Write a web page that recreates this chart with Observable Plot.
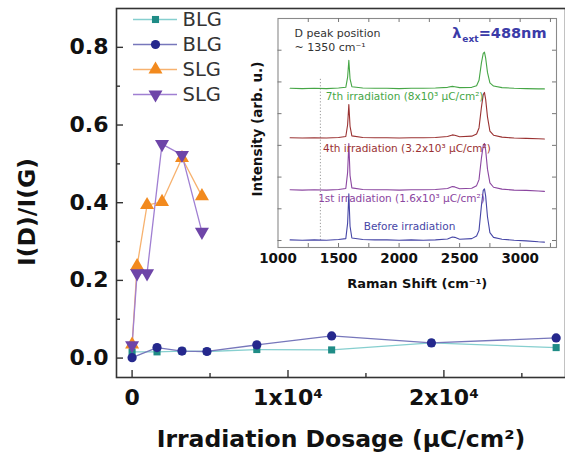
<!DOCTYPE html>
<html><head><meta charset="utf-8">
<script src="https://cdn.jsdelivr.net/npm/d3@7"></script>
<script src="https://cdn.jsdelivr.net/npm/@observablehq/plot@0.6"></script>
<style>
body{margin:0;background:#fff;}
#chart{position:relative;width:565px;height:461px;overflow:hidden;background:#fff;}
#chart svg{position:absolute;left:0;top:0;}
</style></head><body><div id="chart"></div>
<script>
// ---------- main chart data ----------
const blgSquareDose  = [0, 1600, 3200, 4800, 8000, 12800, 19200, 27200];
const blgSquareRatio = [0.016, 0.016, 0.018, 0.017, 0.022, 0.021, 0.039, 0.027];
const blgCircleDose  = [0, 1600, 3200, 4800, 8000, 12800, 19200, 27200];
const blgCircleRatio = [0.001, 0.027, 0.018, 0.017, 0.034, 0.057, 0.039, 0.052];
const slgUpDose      = [0, 320, 960, 1920, 3200, 4480];
const slgUpRatio     = [0.035, 0.237, 0.394, 0.402, 0.515, 0.417];
const slgDownDose    = [0, 320, 960, 1920, 3200, 4480];
const slgDownRatio   = [0.033, 0.218, 0.218, 0.551, 0.523, 0.325];
const seriesNames    = ["BLG", "BLG", "SLG", "SLG"];
const lineColors     = ["#86cfcf", "#7777bb", "#f7b26f", "#a07fd2"];
const markColors     = ["#1f8c86", "#25288d", "#f28a1e", "#6e45a8"];
const xTicks      = [0, 10000, 20000];
const xTickLabels = ["0", "1x10⁴", "2x10⁴"];
const xMinor      = [5000, 15000, 25000];
const yTicks      = [0, 0.2, 0.4, 0.6, 0.8];
const yMinor      = [0.1, 0.3, 0.5, 0.7];
const xTitle = "Irradiation Dosage (μC/cm²)";
const yTitle = "I(D)/I(G)";

// ---------- inset (Raman spectra) data ----------
const ramanShift = [1100,1200,1300,1400,1500,1560,1575,1585,1595,1610,1700,1800,1900,2000,2100,2200,2300,2400,2440,2460,2500,2600,2640,2660,2680,2695,2705,2715,2730,2750,2780,2850,2950,3050,3150,3200];
const specBefore = [0.02,0.01,0.02,0.01,0.03,0.06,0.55,1.47,0.45,0.08,0.03,0.02,0.02,0.01,0.02,0.01,0.02,0.05,0.11,0.10,0.04,0.06,0.14,0.32,1.10,1.58,1.63,1.40,0.75,0.25,0.10,0.04,0.01,-0.01,-0.04,-0.05];
const spec1st    = [1.60,1.59,1.60,1.59,1.61,1.64,2.15,3.06,2.05,1.66,1.61,1.60,1.60,1.59,1.60,1.60,1.61,1.64,1.70,1.69,1.63,1.65,1.73,1.92,2.60,3.00,3.06,2.85,2.25,1.82,1.68,1.62,1.59,1.58,1.56,1.55];
const spec4th    = [3.24,3.23,3.24,3.23,3.25,3.28,3.65,4.29,3.60,3.30,3.25,3.24,3.24,3.23,3.24,3.24,3.25,3.28,3.33,3.32,3.27,3.29,3.36,3.55,4.20,4.60,4.67,4.45,3.90,3.45,3.32,3.26,3.23,3.22,3.21,3.20];
const spec7th    = [4.80,4.79,4.80,4.79,4.81,4.83,5.15,5.68,5.10,4.85,4.81,4.80,4.80,4.79,4.80,4.80,4.81,4.83,4.86,4.85,4.82,4.83,4.88,5.05,5.60,5.90,5.94,5.75,5.30,4.97,4.87,4.82,4.80,4.79,4.78,4.78];
const specColors = ["#4646a6", "#8b46a0", "#9a3232", "#46a646"];
const specLabels = ["Before irradiation", "1st irradiation (1.6x10³ μC/cm²)", "4th irradiation (3.2x10³ μC/cm²)", "7th irradiation (8x10³ μC/cm²)"];
const specLabelShift = [2086, 2020, 2065, 2045];
const specLabelLevel = [0.44, 1.32, 2.91, 4.54];
const ramanTicks = [1000, 1500, 2000, 2500, 3000];
const ramanMinor = [1250, 1500, 1750, 2000, 2250, 2500, 2750, 3000, 3250];
const intensityTicks = [0, 1, 2, 3, 4, 5, 6];
const dPeakShift = 1350, dLineBottom = 0, dLineTop = 5.1;

const FONT = "DejaVu Sans";
const chart = document.getElementById("chart");

// ---------- main plot ----------
const W = 565, H = 461, mL = 116, mT = 8, mR = 0, mB = 84;
const fw = W - mL - mR, fh = H - mT - mB;
const downTriangle = {draw(ctx, size) {
  const y = Math.sqrt(size / (3 * Math.sqrt(3)));
  ctx.moveTo(0, 2 * y); ctx.lineTo(-Math.sqrt(3) * y, -y); ctx.lineTo(Math.sqrt(3) * y, -y); ctx.closePath();
}};
const symbols = ["square", "circle", "triangle", downTriangle];
const radii = [4, 4.6, 5.2, 5.2];
const doses = [blgSquareDose, blgCircleDose, slgUpDose, slgDownDose];
const ratios = [blgSquareRatio, blgCircleRatio, slgUpRatio, slgDownRatio];
const seriesRows = doses.map((ds, k) => ds.map((d, i) => ({dose: d, ratio: ratios[k][i]})));

const mainMarks = [
  Plot.frame({stroke: "#333", strokeWidth: 1.6}),
  Plot.ruleX(xTicks, {x: d => d, insetTop: fh - 7, stroke: "#333", strokeWidth: 1.4}),
  Plot.ruleX(xMinor, {x: d => d, insetTop: fh - 4, stroke: "#333", strokeWidth: 1.4}),
  Plot.ruleY(yTicks, {y: d => d, insetRight: fw - 7, stroke: "#333", strokeWidth: 1.4}),
  Plot.ruleY(yMinor, {y: d => d, insetRight: fw - 4, stroke: "#333", strokeWidth: 1.4}),
  Plot.axisX({ticks: xTicks, tickSize: 0, tickPadding: 12, tickFormat: d => xTickLabels[xTicks.indexOf(d)], fontSize: 22, fontWeight: "bold", fill: "#111", label: null}),
  Plot.axisY({ticks: yTicks, tickSize: 0, tickPadding: 8, tickFormat: d3.format(".1f"), fontSize: 22, fontWeight: "bold", fill: "#111", label: null}),
  Plot.text([xTitle], {text: d => d, frameAnchor: "bottom", dy: 69.5, textAnchor: "middle", fontSize: 23.5, fontWeight: "bold", fill: "#111"}),
  Plot.text([yTitle], {text: d => d, frameAnchor: "left", rotate: -90, textAnchor: "middle", dx: -89, dy: 19, fontSize: 23.5, fontWeight: "bold", fill: "#111"})
];
seriesRows.forEach((rows, k) => {
  mainMarks.push(Plot.line(rows, {x: "dose", y: "ratio", stroke: lineColors[k], strokeWidth: 1.3}));
});
seriesRows.forEach((rows, k) => {
  mainMarks.push(Plot.dot(rows, {x: "dose", y: "ratio", symbol: symbols[k], r: radii[k], fill: markColors[k], stroke: "none"}));
});

const main = Plot.plot({
  width: W, height: H, marginLeft: mL, marginTop: mT, marginRight: mR, marginBottom: mB,
  style: {fontFamily: FONT, background: "transparent"},
  x: {domain: [-1000, 27800], axis: null},
  y: {domain: [-0.05, 0.9], axis: null},
  marks: mainMarks
});
chart.appendChild(main);

// ---------- inset ----------
const iW = 565, iH = 300, iL = 277.5, iT = 18, iR = 9, iB = 53;
const ifw = iW - iL - iR, ifh = iH - iT - iB;
const spectra = [specBefore, spec1st, spec4th, spec7th];
const labelRows = specLabels.map((t, i) => ({t, s: specLabelShift[i], v: specLabelLevel[i], c: specColors[i]}));
const insetMarks = [
  Plot.frame({fill: "white", stroke: "#8a8a8a", strokeWidth: 1.1}),
  Plot.ruleX([dPeakShift], {x: d => d, y1: dLineBottom, y2: dLineTop, stroke: "#9a9a9a", strokeWidth: 1, strokeDasharray: "1.2,2"}),
  Plot.ruleX(ramanMinor, {x: d => d, insetTop: ifh - 4, stroke: "#777"}),
  Plot.ruleX(ramanMinor, {x: d => d, insetBottom: ifh - 4, stroke: "#777"}),
  Plot.ruleY(intensityTicks, {y: d => d, insetRight: ifw - 4, stroke: "#777"}),
  Plot.ruleY(intensityTicks, {y: d => d, insetLeft: ifw - 4, stroke: "#777"}),
  ...spectra.map((sp, k) => Plot.line(ramanShift.map((s, i) => ({s, v: sp[i]})), {x: "s", y: "v", stroke: specColors[k], strokeWidth: 1.1})),
  ...labelRows.map(r => Plot.text([r], {x: "s", y: "v", text: "t", fill: r.c, fontSize: 10.5})),
  Plot.axisX({ticks: ramanTicks, tickSize: 0, tickPadding: 6, tickFormat: d3.format("d"), fontSize: 13.5, fontWeight: "bold", fill: "#111", label: null}),
  Plot.text(["Raman Shift (cm⁻¹)"], {text: d => d, frameAnchor: "bottom", dy: 40, lineAnchor: "bottom", textAnchor: "middle", fontSize: 13, fontWeight: "bold", fill: "#111"}),
  Plot.text(["Intensity (arb. u.)"], {text: d => d, frameAnchor: "left", rotate: -90, textAnchor: "middle", dx: -20, dy: -4, fontSize: 13.5, fontWeight: "bold", fill: "#111"}),
  Plot.text(["D peak position"], {text: d => d, frameAnchor: "top-left", dx: 16.5, dy: 18, lineAnchor: "bottom", textAnchor: "start", fontSize: 11, fill: "#333"}),
  Plot.text(["~ 1350 cm⁻¹"], {text: d => d, frameAnchor: "top-left", dx: 16.5, dy: 32, lineAnchor: "bottom", textAnchor: "start", fontSize: 11, fill: "#333"}),
  Plot.text(["=488nm"], {text: d => d, frameAnchor: "top-right", dx: -10, dy: 19, lineAnchor: "bottom", textAnchor: "end", fontSize: 14.5, fontWeight: "bold", fill: "#3b3ba8"}),
  Plot.text(["ext"], {text: d => d, frameAnchor: "top-right", dx: -78, dy: 23, lineAnchor: "bottom", textAnchor: "end", fontSize: 9, fontWeight: "bold", fill: "#3b3ba8"}),
  Plot.text(["λ"], {text: d => d, frameAnchor: "top-right", dx: -95, dy: 19, lineAnchor: "bottom", textAnchor: "end", fontSize: 14.5, fontWeight: "bold", fill: "#3b3ba8"})
];
const inset = Plot.plot({
  width: iW, height: iH, marginLeft: iL, marginTop: iT, marginRight: iR, marginBottom: iB,
  style: {fontFamily: FONT, background: "transparent"},
  x: {domain: [1000, 3300], axis: null},
  y: {domain: [-0.22, 7.0], axis: null},
  marks: insetMarks
});
chart.appendChild(inset);

// ---------- legend ----------
const legendIdx = [0, 1, 2, 3];
const legendMarks = [];
legendIdx.forEach(k => {
  legendMarks.push(Plot.ruleY([k], {y: d => d, stroke: lineColors[k], strokeWidth: 1.3}));
  legendMarks.push(Plot.dot([k], {y: d => d, symbol: symbols[k], r: radii[k], fill: markColors[k], stroke: "none"}));
  legendMarks.push(Plot.text([k], {y: d => d, text: d => seriesNames[d], dx: 27, textAnchor: "start", fontSize: 19.5, fill: "#333"}));
});
const legend = Plot.plot({
  width: 240, height: 112, marginLeft: 133, marginRight: 63, marginTop: 19, marginBottom: 18,
  style: {fontFamily: FONT, background: "transparent"},
  y: {type: "point", domain: legendIdx, padding: 0, axis: null},
  marks: legendMarks
});
chart.appendChild(legend);
</script>
</body></html>
